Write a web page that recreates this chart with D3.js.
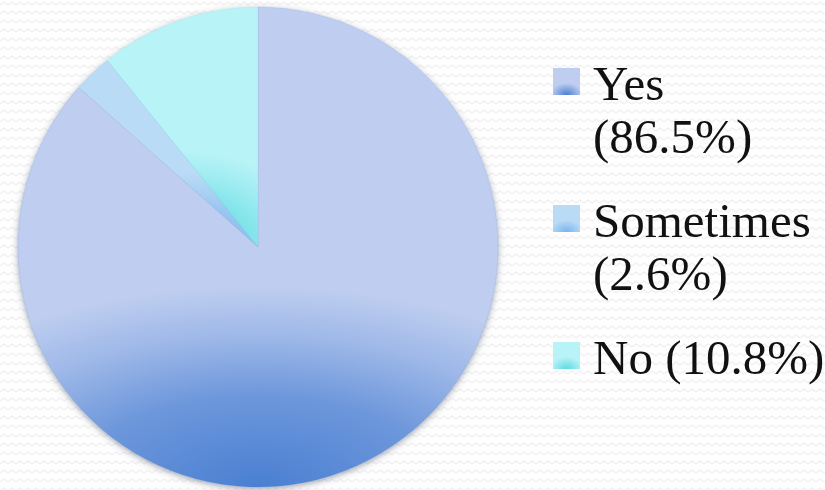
<!DOCTYPE html>
<html>
<head>
<meta charset="utf-8">
<script src="https://cdn.jsdelivr.net/npm/d3@7/dist/d3.min.js"></script>
<style>
  html, body { margin: 0; padding: 0; background: #fefefe; }
  svg { display: block; }
</style>
</head>
<body>
<svg id="chart" width="825" height="490"></svg>
<script>
// Survey answers and their shares (percent)
const categories = ["Yes", "Sometimes", "No"];
const values = [86.5, 2.6, 10.8];

// Slice colours: light body and deeper glow at the bottom of each slice
const lightColors = ["#bfcef0", "#badbf6", "#b8f3f7"];
const darkColors  = ["#4a7fd2", "#78b3ec", "#5cdae2"];

const W = 825, H = 490;
const cx = 258, cy = 247, R = 240;

const svg = d3.select("#chart");
const defs = svg.append("defs");

// Soft zigzag paper texture for the background
const pat = defs.append("pattern")
  .attr("id", "zigzag").attr("patternUnits", "userSpaceOnUse")
  .attr("width", 8).attr("height", 9);
pat.append("rect").attr("width", 8).attr("height", 9).attr("fill", "#fefefe");
pat.append("path").attr("d", "M0,5 L4,2 L8,5")
  .attr("fill", "none").attr("stroke", "#f0f0f0").attr("stroke-width", 1.3);

svg.append("rect").attr("width", W).attr("height", H).attr("fill", "url(#zigzag)");

// Drop shadow under the pie
const shadow = defs.append("filter").attr("id", "pieShadow")
  .attr("x", "-10%").attr("y", "-10%").attr("width", "120%").attr("height", "120%");
shadow.append("feDropShadow")
  .attr("dx", 0).attr("dy", 2).attr("stdDeviation", 3)
  .attr("flood-color", "#3c4c66").attr("flood-opacity", 0.5);

const pie = d3.pie().sort(null).value(d => d)(values);
const arc = d3.arc().innerRadius(0).outerRadius(R);

const g = svg.append("g")
  .attr("transform", `translate(${cx},${cy})`)
  .attr("filter", "url(#pieShadow)");

const paths = g.selectAll("path.slice")
  .data(pie)
  .join("path")
  .attr("class", "slice")
  .attr("d", arc);

// Radial glow anchored at the bottom centre of each slice's bounding box
function addGlow(id, i, x, y, rx, ry) {
  const grad = defs.append("radialGradient")
    .attr("id", id)
    .attr("gradientUnits", "userSpaceOnUse")
    .attr("cx", 0).attr("cy", 0).attr("r", 1)
    .attr("gradientTransform", `translate(${x},${y}) scale(${rx},${ry})`);
  const mix = d3.interpolateRgb(darkColors[i], lightColors[i]);
  [[0, 0], [0.45, 0.3], [0.75, 0.72], [1, 1]].forEach(([o, t]) => {
    grad.append("stop").attr("offset", o).attr("stop-color", mix(t));
  });
}

paths.each(function (d, i) {
  const b = this.getBBox();
  const big = (d.endAngle - d.startAngle) > Math.PI;
  const rx = big ? b.width * 0.85 : b.width * 0.9;
  const ry = big ? b.height * 0.42 : b.height * 0.4;
  // coordinates are local to the translated pie group
  addGlow("glow" + i, i, b.x + b.width / 2, b.y + b.height, rx, ry);
  d3.select(this)
    .attr("fill", `url(#glow${i})`)
    .attr("stroke", d3.color(darkColors[i]).copy({opacity: 0.25}))
    .attr("stroke-width", 0.6);
});

// Legend
const legendX = 553, textX = 593, sw = 27;
const fontSize = 49, lineH = 53, gap = 31;
const maxW = 240;
const lg = svg.append("g")
  .attr("font-family", "'Liberation Serif', 'Times New Roman', serif")
  .attr("font-size", fontSize)
  .attr("fill", "#111");

categories.forEach((c, i) => {
  const sg = defs.append("radialGradient")
    .attr("id", "sw" + i)
    .attr("cx", 0.5).attr("cy", 1).attr("r", 1)
    .attr("gradientTransform", "translate(0.5 1) scale(0.6 0.45) translate(-0.5 -1)");
  sg.append("stop").attr("offset", 0).attr("stop-color", darkColors[i]);
  sg.append("stop").attr("offset", 1).attr("stop-color", lightColors[i]);
});

let baseline = 100;
categories.forEach((c, i) => {
  const pct = `(${values[i]}%)`;
  const full = `${c} ${pct}`;
  const probe = lg.append("text").attr("x", textX).attr("y", baseline).text(full);
  const fits = probe.node().getComputedTextLength() <= maxW;
  probe.remove();
  const lines = fits ? [full] : [c, pct];

  lg.append("rect")
    .attr("x", legendX).attr("y", baseline - 32)
    .attr("width", sw).attr("height", sw)
    .attr("fill", `url(#sw${i})`);

  lines.forEach((t, k) => {
    lg.append("text")
      .attr("x", textX).attr("y", baseline + k * lineH)
      .text(t);
  });
  baseline += lines.length * lineH + gap;
});
</script>
</body>
</html>
